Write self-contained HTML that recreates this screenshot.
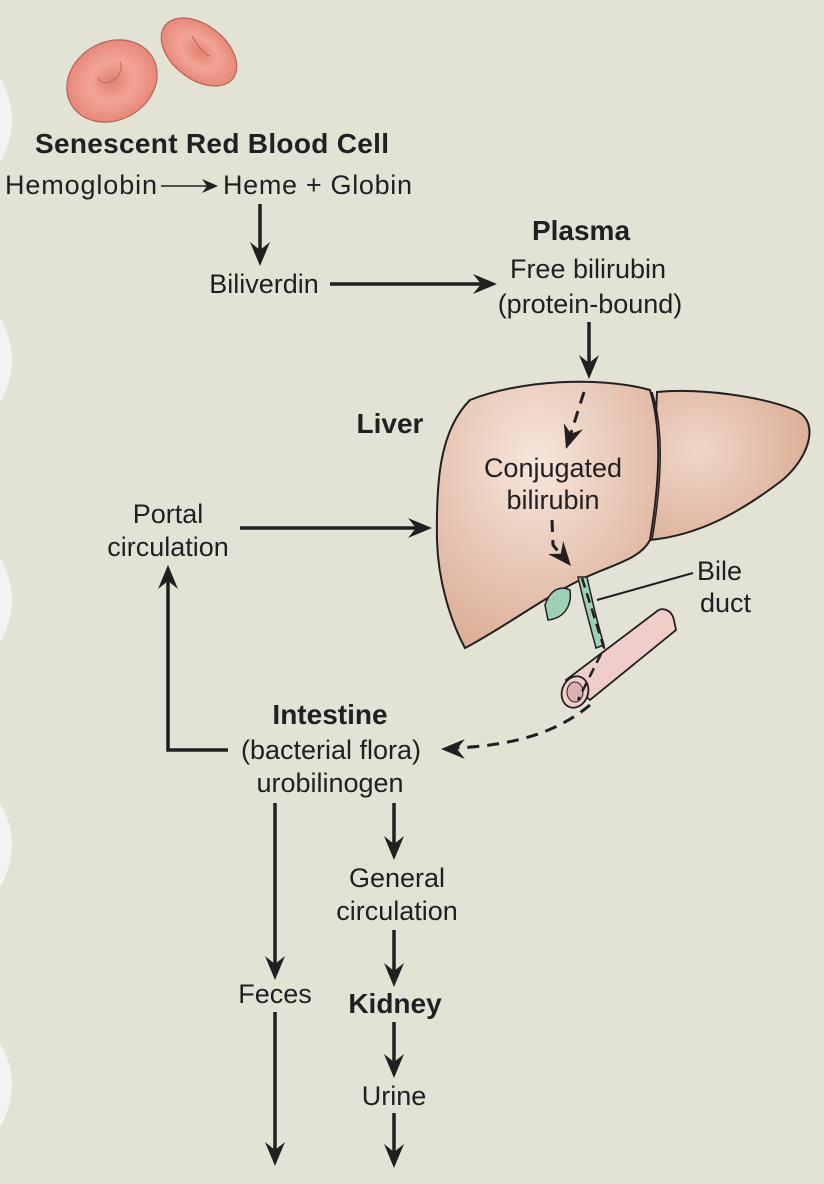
<!DOCTYPE html>
<html><head><meta charset="utf-8"><style>
html,body{margin:0;padding:0;background:#e2e2d5;}
svg{display:block;}
text{font-family:"Liberation Sans",Arial,sans-serif;fill:#231f20;font-size:27px;}
.b{font-weight:bold;font-size:28px;}
</style></head><body>
<svg width="824" height="1184" viewBox="0 0 824 1184" xmlns="http://www.w3.org/2000/svg">
<defs>
<path id="ar" d="M0,0 L-24,-10 L-16,0 L-24,10 Z" fill="#231f20"/>
<path id="ard" d="M0,0 L-16,-7 L-11,0 L-16,7 Z" fill="#231f20"/>
<radialGradient id="lv" cx="0.45" cy="0.3" r="0.75"><stop offset="0" stop-color="#f6e6dc"/><stop offset="1" stop-color="#dcae96"/></radialGradient>
<radialGradient id="lv2" cx="0.3" cy="0.4" r="0.8"><stop offset="0" stop-color="#f0d6c8"/><stop offset="1" stop-color="#d9ab92"/></radialGradient>
<radialGradient id="rbc" cx="0.5" cy="0.5" r="0.5"><stop offset="0" stop-color="#e2806f"/><stop offset="0.5" stop-color="#f2a595"/><stop offset="1" stop-color="#e7887a"/></radialGradient>
</defs>
<rect width="824" height="1184" fill="#e2e2d5"/>
<g fill="#f3f3f1">
<circle cx="-68" cy="120" r="80"/><circle cx="-68" cy="360" r="80"/><circle cx="-68" cy="600" r="80"/><circle cx="-68" cy="845" r="80"/><circle cx="-68" cy="1085" r="80"/>
</g>
<ellipse cx="112" cy="81" rx="47" ry="39" transform="rotate(-30 112 81)" fill="url(#rbc)" stroke="#b5635a" stroke-width="1.2"/>
<path d="M98,78 q6,10 18,0 q8,-8 4,-16" fill="none" stroke="#b5635a" stroke-width="1"/>
<ellipse cx="199" cy="52" rx="43" ry="27" transform="rotate(38 199 52)" fill="url(#rbc)" stroke="#b5635a" stroke-width="1.2"/>
<path d="M192,36 q10,18 18,20" fill="none" stroke="#b5635a" stroke-width="1"/>
<text x="212" y="153" text-anchor="middle" class="b" textLength="354">Senescent Red Blood Cell</text>
<text x="5" y="194" textLength="152">Hemoglobin</text>
<line x1="161" y1="186" x2="210" y2="186" stroke="#231f20" stroke-width="1.6"/>
<use href="#ard" transform="translate(218,186)"/>
<text x="223" y="194" textLength="189">Heme + Globin</text>
<g stroke="#231f20" stroke-width="3.5" fill="none">
<line x1="260" y1="204" x2="260" y2="255"/>
<line x1="330" y1="284" x2="485" y2="284"/>
<line x1="589" y1="322" x2="589" y2="368"/>
<line x1="240" y1="528" x2="420" y2="528"/>
<polyline points="228,750 168,750 168,578"/>
<line x1="275" y1="803" x2="275" y2="968"/>
<line x1="275" y1="1012" x2="275" y2="1154"/>
<line x1="394" y1="803" x2="394" y2="848"/>
<line x1="394" y1="930" x2="394" y2="975"/>
<line x1="394" y1="1022" x2="394" y2="1066"/>
<line x1="394" y1="1113" x2="394" y2="1156"/>
</g>
<use href="#ar" transform="translate(260,266) rotate(90)"/>
<use href="#ar" transform="translate(497,284)"/>
<use href="#ar" transform="translate(589,379) rotate(90)"/>
<use href="#ar" transform="translate(432,528)"/>
<use href="#ar" transform="translate(168,565) rotate(-90)"/>
<use href="#ar" transform="translate(275,980) rotate(90)"/>
<use href="#ar" transform="translate(275,1166) rotate(90)"/>
<use href="#ar" transform="translate(394,860) rotate(90)"/>
<use href="#ar" transform="translate(394,987) rotate(90)"/>
<use href="#ar" transform="translate(394,1078) rotate(90)"/>
<use href="#ar" transform="translate(394,1168) rotate(90)"/>
<text x="264" y="293" text-anchor="middle">Biliverdin</text>
<text x="581" y="240" text-anchor="middle" class="b">Plasma</text>
<text x="588" y="278" text-anchor="middle">Free bilirubin</text>
<text x="590" y="313" text-anchor="middle">(protein-bound)</text>
<text x="390" y="433" text-anchor="middle" class="b">Liver</text>
<path d="M657,392 C700,388 760,396 795,410 C822,422 808,460 780,482 C740,512 700,535 650,540 Z" fill="url(#lv2)" stroke="#231f20" stroke-width="2"/>
<path d="M470,400 C520,380 600,376 650,390 C662,430 660,480 650,540 C640,560 610,565 580,580 C540,600 500,630 465,648 C450,620 438,580 437,540 C436,480 440,430 470,400 Z" fill="url(#lv)" stroke="#231f20" stroke-width="2"/>
<path d="M652,392 C664,430 662,480 652,540" fill="none" stroke="#231f20" stroke-width="1.5"/>
<path d="M545,605 C550,590 560,585 570,590 C572,605 565,618 548,620 Z" fill="#9fd0b4" stroke="#231f20" stroke-width="1.5"/>
<path d="M566,680 L656,612 C662,606 672,610 674,620 L676,630 L590,700 Z" fill="#efcdc8" stroke="#231f20" stroke-width="1.8"/>
<ellipse cx="575" cy="692" rx="13" ry="16" transform="rotate(20 575 692)" fill="#efcdc8" stroke="#231f20" stroke-width="1.8"/>
<ellipse cx="575" cy="692" rx="8" ry="10" fill="#d9b2ad" stroke="#231f20" stroke-width="1"/>
<path d="M578,577 L587,577 C592,600 598,625 604,645 L596,648 C590,625 583,600 578,577 Z" fill="#9fd0b4" stroke="#231f20" stroke-width="1.5"/>
<line x1="597" y1="600" x2="693" y2="573" stroke="#231f20" stroke-width="2"/>
<text x="697" y="580">Bile</text>
<text x="700" y="612">duct</text>
<text x="553" y="477" text-anchor="middle">Conjugated</text>
<text x="553" y="509" text-anchor="middle">bilirubin</text>
<g stroke="#231f20" stroke-width="3" fill="none" stroke-dasharray="12,8">
<path d="M584,392 L570,436"/>
<path d="M552,520 L553,545 L562,556"/>
<path d="M582,578 L604,648 L578,700" stroke-width="2.5" stroke-dasharray="10,6"/>
<path d="M590,705 C560,730 520,745 456,748"/>
</g>
<use href="#ar" transform="translate(566,449) rotate(108)"/>
<use href="#ar" transform="translate(571,566) rotate(50)"/>
<use href="#ar" transform="translate(441,749) rotate(180)"/>
<text x="168" y="523" text-anchor="middle">Portal</text>
<text x="168" y="556" text-anchor="middle">circulation</text>
<text x="330" y="724" text-anchor="middle" class="b">Intestine</text>
<text x="331" y="759" text-anchor="middle">(bacterial flora)</text>
<text x="330" y="792" text-anchor="middle">urobilinogen</text>
<text x="275" y="1003" text-anchor="middle">Feces</text>
<text x="397" y="887" text-anchor="middle">General</text>
<text x="397" y="920" text-anchor="middle">circulation</text>
<text x="395" y="1013" text-anchor="middle" class="b">Kidney</text>
<text x="394" y="1105" text-anchor="middle">Urine</text>
</svg>
</body></html>
